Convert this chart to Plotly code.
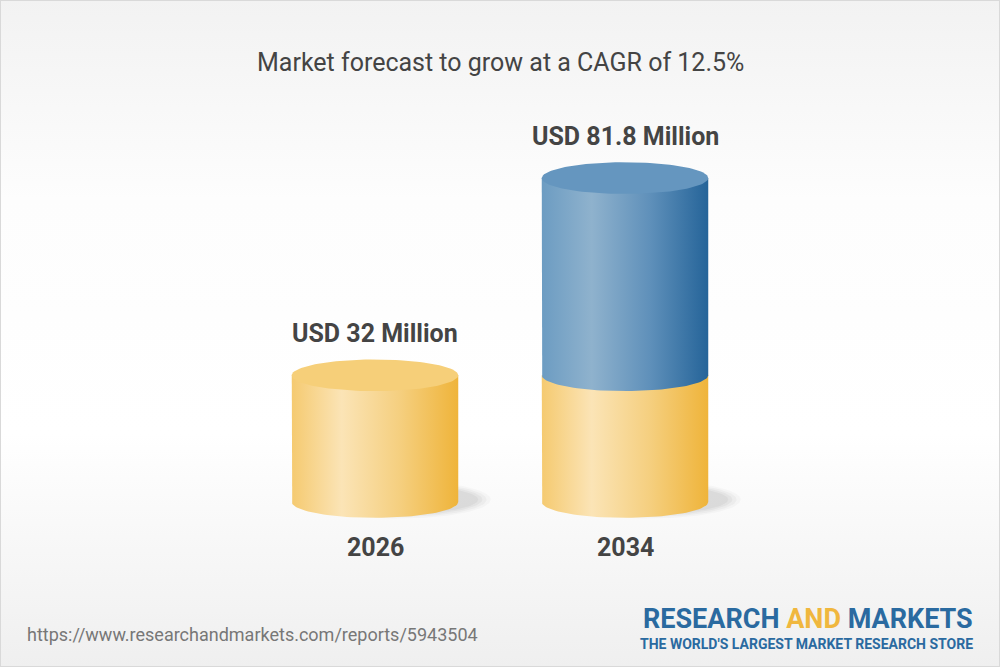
import numpy as np
import plotly.graph_objects as go

# chart data
years = ["2026", "2034"]
base_values = [32, 32]          # yellow part (2026 level)
growth_values = [0, 49.8]       # blue part on top (81.8 - 32)
value_labels = ["USD 32 Million", "USD 81.8 Million"]
title_text = "Market forecast to grow at a CAGR of 12.5%"
source_url = "https://www.researchandmarkets.com/reports/5943504"

# look
YELLOW_SIDE = [[0, "#f5ca70"], [0.3, "#fbe4b6"], [0.65, "#f5cf7f"], [1, "#efb43a"]]
YELLOW_TOP = "#f6cf79"
BLUE_SIDE = [[0, "#6c9cc2"], [0.3, "#8fb2cd"], [0.65, "#5f90ba"], [1, "#256499"]]
BLUE_TOP = "#6596bf"
TEXT = "#444444"

HW = 0.333     # half width of a cylinder (x units)
RY = 4.0       # ellipse half height (y units)

fig = go.Figure()

# background gradient
fig.add_trace(go.Scatter(
    x=[-1.5, 2.5, 2.5, -1.5, -1.5], y=[-42, -42, 127, 127, -42],
    fill="toself", mode="lines", line=dict(width=0),
    fillgradient=dict(type="vertical",
                      colorscale=[[0, "#efefef"], [0.35, "#ffffff"], [0.7, "#fdfdfd"], [1, "#f2f2f2"]]),
    hoverinfo="skip", showlegend=False))

t_front = np.linspace(np.pi, 2 * np.pi, 60)   # lower (front) half
t_full = np.linspace(0, 2 * np.pi, 120)


def side(xc, y_bot, y_top, scale):
    xs = [xc - HW] + list(xc + HW * np.cos(t_front)) + [xc + HW, xc - HW]
    ys = [y_top] + list(y_bot + RY * np.sin(t_front)) + [y_top, y_top]
    fig.add_trace(go.Scatter(
        x=xs, y=ys, fill="toself", mode="lines", line=dict(width=0),
        fillgradient=dict(type="horizontal", colorscale=scale),
        hoverinfo="skip", showlegend=False))


def top(xc, y, color):
    fig.add_trace(go.Scatter(
        x=xc + HW * np.cos(t_full), y=y + RY * np.sin(t_full),
        fill="toself", mode="lines", line=dict(width=0), fillcolor=color,
        hoverinfo="skip", showlegend=False))


for i, yr in enumerate(years):
    # soft shadow at the base
    for k, a in enumerate([0.025, 0.03, 0.035, 0.04]):
        fig.add_trace(go.Scatter(
            x=i + 0.09 + HW * (1.12 - 0.05 * k) * np.cos(t_full),
            y=0.6 + RY * (1.2 - 0.1 * k) * np.sin(t_full),
            fill="toself", mode="lines", line=dict(width=0),
            fillcolor=f"rgba(0,0,0,{a})", hoverinfo="skip", showlegend=False))

    total = base_values[i] + growth_values[i]
    side(i, 0, base_values[i], YELLOW_SIDE)
    if growth_values[i] > 0:
        side(i, base_values[i], total, BLUE_SIDE)
        top(i, total, BLUE_TOP)
    else:
        top(i, total, YELLOW_TOP)

    fig.add_annotation(x=i, y=total + RY, yshift=26, yanchor="middle", text=f"<b>{value_labels[i]}</b>",
                       showarrow=False, font=dict(family="Roboto", size=25, color=TEXT))
    fig.add_annotation(x=i, y=-RY, yshift=-30, yanchor="middle", text=f"<b>{yr}</b>",
                       showarrow=False, font=dict(family="Roboto", size=25, color=TEXT))

# title, source and logo
fig.add_annotation(x=0.5, y=0.907, xref="paper", yref="paper", yanchor="middle", text=title_text,
                   showarrow=False, font=dict(family="Roboto", size=25, color=TEXT))
fig.add_annotation(x=0.025, y=0.048, xref="paper", yref="paper", xanchor="left", yanchor="middle",
                   text=source_url, showarrow=False,
                   font=dict(family="Roboto", size=18, color="#777777"))
fig.add_annotation(x=0.975, y=0.072, xref="paper", yref="paper", xanchor="right", yanchor="middle",
                   text="<b>RESEARCH <span style='color:#f0b73e'>AND</span> MARKETS</b>",
                   showarrow=False, font=dict(family="Roboto", size=27, color="#2a6aa0"))
fig.add_annotation(x=0.975, y=0.0345, xref="paper", yref="paper", xanchor="right", yanchor="middle",
                   text="<b>THE WORLD'S LARGEST MARKET RESEARCH STORE</b>",
                   showarrow=False, font=dict(family="Roboto", size=14, color="#2a6aa0"))

fig.add_shape(type="rect", xref="paper", yref="paper", x0=0, y0=0, x1=1, y1=1,
              line=dict(color="#d9d9d9", width=2))

fig.update_layout(
    width=1000, height=667,
    margin=dict(l=0, r=0, t=0, b=0),
    paper_bgcolor="#ffffff", plot_bgcolor="#ffffff",
    xaxis=dict(range=[-1.5, 2.5], visible=False, fixedrange=True),
    yaxis=dict(range=[-41.67, 126.77], visible=False, fixedrange=True),
    showlegend=False,
)

fig.write_html("out.html", config={"displayModeBar": False},
               post_script="document.body.style.margin='0px';document.body.style.overflow='hidden';")
